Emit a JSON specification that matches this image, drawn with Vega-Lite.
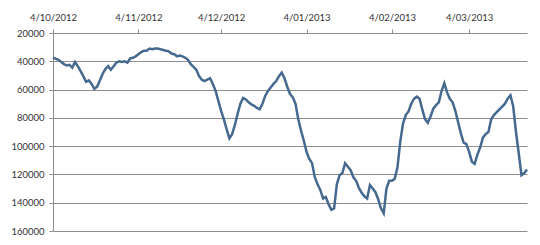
{
  "$schema": "https://vega.github.io/schema/vega-lite/v6.json",
  "width": 474,
  "height": 198,
  "autosize": {"type": "none"},
  "padding": {"left": 53, "top": 33, "right": 13, "bottom": 14},
  "background": "white",
  "config": {
    "view": {"stroke": null},
    "font": "Lato",
    "axis": {"labelFont": "Lato", "labelFontSize": 9.5, "labelColor": "#333333", "domainColor": "#8e8e8e", "tickColor": "#8e8e8e", "gridColor": "#8e8e8e", "gridOpacity": 1, "domainWidth": 1, "tickWidth": 1, "gridWidth": 1}
  },
  "data": {"values": [
    {"date": "2012-10-04", "v": 37400}, {"date": "2012-10-06", "v": 39000}, {"date": "2012-10-07", "v": 40500},
    {"date": "2012-10-08", "v": 42000}, {"date": "2012-10-09", "v": 43000}, {"date": "2012-10-10", "v": 42500},
    {"date": "2012-10-11", "v": 44500}, {"date": "2012-10-12", "v": 40500}, {"date": "2012-10-13", "v": 43500},
    {"date": "2012-10-14", "v": 47000}, {"date": "2012-10-15", "v": 50500}, {"date": "2012-10-16", "v": 54500},
    {"date": "2012-10-17", "v": 53500}, {"date": "2012-10-18", "v": 56000}, {"date": "2012-10-19", "v": 59500},
    {"date": "2012-10-20", "v": 58000}, {"date": "2012-10-21", "v": 53500}, {"date": "2012-10-22", "v": 49000},
    {"date": "2012-10-23", "v": 45500}, {"date": "2012-10-24", "v": 43500}, {"date": "2012-10-25", "v": 46000},
    {"date": "2012-10-26", "v": 43500}, {"date": "2012-10-27", "v": 41000}, {"date": "2012-10-28", "v": 40000},
    {"date": "2012-10-29", "v": 40500}, {"date": "2012-10-30", "v": 40000}, {"date": "2012-10-31", "v": 41000},
    {"date": "2012-11-01", "v": 38000}, {"date": "2012-11-02", "v": 37500}, {"date": "2012-11-03", "v": 36500},
    {"date": "2012-11-04", "v": 35000}, {"date": "2012-11-05", "v": 33500}, {"date": "2012-11-06", "v": 32500},
    {"date": "2012-11-07", "v": 32500}, {"date": "2012-11-08", "v": 31000}, {"date": "2012-11-09", "v": 31500},
    {"date": "2012-11-10", "v": 31000}, {"date": "2012-11-11", "v": 31000}, {"date": "2012-11-12", "v": 31500},
    {"date": "2012-11-13", "v": 32000}, {"date": "2012-11-14", "v": 32500}, {"date": "2012-11-15", "v": 33000},
    {"date": "2012-11-16", "v": 34500}, {"date": "2012-11-17", "v": 35000}, {"date": "2012-11-18", "v": 36500},
    {"date": "2012-11-19", "v": 36000}, {"date": "2012-11-20", "v": 36500}, {"date": "2012-11-21", "v": 37500},
    {"date": "2012-11-22", "v": 39000}, {"date": "2012-11-23", "v": 42000}, {"date": "2012-11-24", "v": 44000},
    {"date": "2012-11-25", "v": 46000}, {"date": "2012-11-26", "v": 50500}, {"date": "2012-11-27", "v": 53000},
    {"date": "2012-11-28", "v": 54000}, {"date": "2012-11-29", "v": 53000}, {"date": "2012-11-30", "v": 52000},
    {"date": "2012-12-01", "v": 56000}, {"date": "2012-12-02", "v": 61000}, {"date": "2012-12-03", "v": 68000},
    {"date": "2012-12-04", "v": 75000}, {"date": "2012-12-05", "v": 81000}, {"date": "2012-12-06", "v": 88000},
    {"date": "2012-12-07", "v": 94500}, {"date": "2012-12-08", "v": 91500}, {"date": "2012-12-09", "v": 85000},
    {"date": "2012-12-10", "v": 77000}, {"date": "2012-12-11", "v": 70000}, {"date": "2012-12-12", "v": 66000},
    {"date": "2012-12-13", "v": 67000}, {"date": "2012-12-14", "v": 69000}, {"date": "2012-12-15", "v": 70500},
    {"date": "2012-12-16", "v": 71500}, {"date": "2012-12-17", "v": 73000}, {"date": "2012-12-18", "v": 74000},
    {"date": "2012-12-19", "v": 70000}, {"date": "2012-12-20", "v": 64500}, {"date": "2012-12-21", "v": 61000},
    {"date": "2012-12-22", "v": 58500}, {"date": "2012-12-23", "v": 56000}, {"date": "2012-12-24", "v": 54000},
    {"date": "2012-12-25", "v": 50500}, {"date": "2012-12-26", "v": 48000}, {"date": "2012-12-27", "v": 52000},
    {"date": "2012-12-28", "v": 58000}, {"date": "2012-12-29", "v": 63000}, {"date": "2012-12-30", "v": 65500},
    {"date": "2012-12-31", "v": 70000}, {"date": "2013-01-01", "v": 81000}, {"date": "2013-01-02", "v": 89000},
    {"date": "2013-01-03", "v": 96000}, {"date": "2013-01-04", "v": 104000}, {"date": "2013-01-05", "v": 109000},
    {"date": "2013-01-06", "v": 112000}, {"date": "2013-01-07", "v": 122000}, {"date": "2013-01-08", "v": 127000},
    {"date": "2013-01-09", "v": 131000}, {"date": "2013-01-10", "v": 137000}, {"date": "2013-01-11", "v": 136000},
    {"date": "2013-01-12", "v": 141000}, {"date": "2013-01-13", "v": 145000}, {"date": "2013-01-14", "v": 144000},
    {"date": "2013-01-15", "v": 127000}, {"date": "2013-01-16", "v": 120500}, {"date": "2013-01-17", "v": 119000},
    {"date": "2013-01-18", "v": 112000}, {"date": "2013-01-19", "v": 114500}, {"date": "2013-01-20", "v": 117000},
    {"date": "2013-01-21", "v": 122000}, {"date": "2013-01-22", "v": 124500}, {"date": "2013-01-23", "v": 129500},
    {"date": "2013-01-24", "v": 133000}, {"date": "2013-01-25", "v": 135500}, {"date": "2013-01-26", "v": 137000},
    {"date": "2013-01-27", "v": 127500}, {"date": "2013-01-28", "v": 130000}, {"date": "2013-01-29", "v": 132500},
    {"date": "2013-01-30", "v": 137500}, {"date": "2013-01-31", "v": 144000}, {"date": "2013-02-01", "v": 147500},
    {"date": "2013-02-02", "v": 130000}, {"date": "2013-02-03", "v": 124500}, {"date": "2013-02-04", "v": 124500},
    {"date": "2013-02-05", "v": 123000}, {"date": "2013-02-06", "v": 115000}, {"date": "2013-02-07", "v": 97000},
    {"date": "2013-02-08", "v": 84000}, {"date": "2013-02-09", "v": 78000}, {"date": "2013-02-10", "v": 75500},
    {"date": "2013-02-11", "v": 70000}, {"date": "2013-02-12", "v": 66500}, {"date": "2013-02-13", "v": 65000},
    {"date": "2013-02-14", "v": 66500}, {"date": "2013-02-15", "v": 74000}, {"date": "2013-02-16", "v": 81000},
    {"date": "2013-02-17", "v": 83500}, {"date": "2013-02-18", "v": 79000}, {"date": "2013-02-19", "v": 73500},
    {"date": "2013-02-20", "v": 71000}, {"date": "2013-02-21", "v": 69000}, {"date": "2013-02-22", "v": 61000},
    {"date": "2013-02-23", "v": 55500}, {"date": "2013-02-24", "v": 62000}, {"date": "2013-02-25", "v": 66500},
    {"date": "2013-02-26", "v": 69000}, {"date": "2013-02-27", "v": 75000}, {"date": "2013-02-28", "v": 83000},
    {"date": "2013-03-01", "v": 91000}, {"date": "2013-03-02", "v": 97500}, {"date": "2013-03-03", "v": 98500},
    {"date": "2013-03-04", "v": 104000}, {"date": "2013-03-05", "v": 111000}, {"date": "2013-03-06", "v": 112500},
    {"date": "2013-03-07", "v": 106000}, {"date": "2013-03-08", "v": 101000}, {"date": "2013-03-09", "v": 94000},
    {"date": "2013-03-10", "v": 91500}, {"date": "2013-03-11", "v": 90000}, {"date": "2013-03-12", "v": 81000},
    {"date": "2013-03-13", "v": 78000}, {"date": "2013-03-14", "v": 76000}, {"date": "2013-03-15", "v": 74000},
    {"date": "2013-03-16", "v": 72000}, {"date": "2013-03-17", "v": 70000}, {"date": "2013-03-18", "v": 66500},
    {"date": "2013-03-19", "v": 64000}, {"date": "2013-03-20", "v": 72000}, {"date": "2013-03-21", "v": 90000},
    {"date": "2013-03-22", "v": 105000}, {"date": "2013-03-23", "v": 120500}, {"date": "2013-03-24", "v": 119000},
    {"date": "2013-03-25", "v": 116500}
  ]},
  "mark": {"type": "line", "color": "#46698F", "strokeWidth": 2.5, "interpolate": "linear"},
  "encoding": {
    "x": {
      "field": "date", "type": "temporal",
      "scale": {"type": "utc", "domain": [{"year": 2012, "month": 10, "date": 4, "utc": true}, {"year": 2013, "month": 3, "date": 25, "utc": true}]},
      "axis": {
        "orient": "top", "title": null, "grid": false, "domain": false,
        "labelExpr": "utcFormat(datum.value, '%-d/%m/%Y')",
        "values": [
          {"year": 2012, "month": 10, "date": 4, "utc": true},
          {"year": 2012, "month": 11, "date": 4, "utc": true},
          {"year": 2012, "month": 12, "date": 4, "utc": true},
          {"year": 2013, "month": 1, "date": 4, "utc": true},
          {"year": 2013, "month": 2, "date": 4, "utc": true},
          {"year": 2013, "month": 3, "date": 4, "utc": true}
        ],
        "tickSize": 4, "labelPadding": 7, "labelFlush": false, "labelOverlap": false
      }
    },
    "y": {
      "field": "v", "type": "quantitative",
      "scale": {"domain": [20000, 160000], "reverse": true, "nice": false, "zero": false},
      "axis": {
        "title": null, "values": [20000, 40000, 60000, 80000, 100000, 120000, 140000, 160000],
        "format": "d", "tickSize": 4, "labelPadding": 5, "grid": true, "domain": true
      }
    }
  }
}
